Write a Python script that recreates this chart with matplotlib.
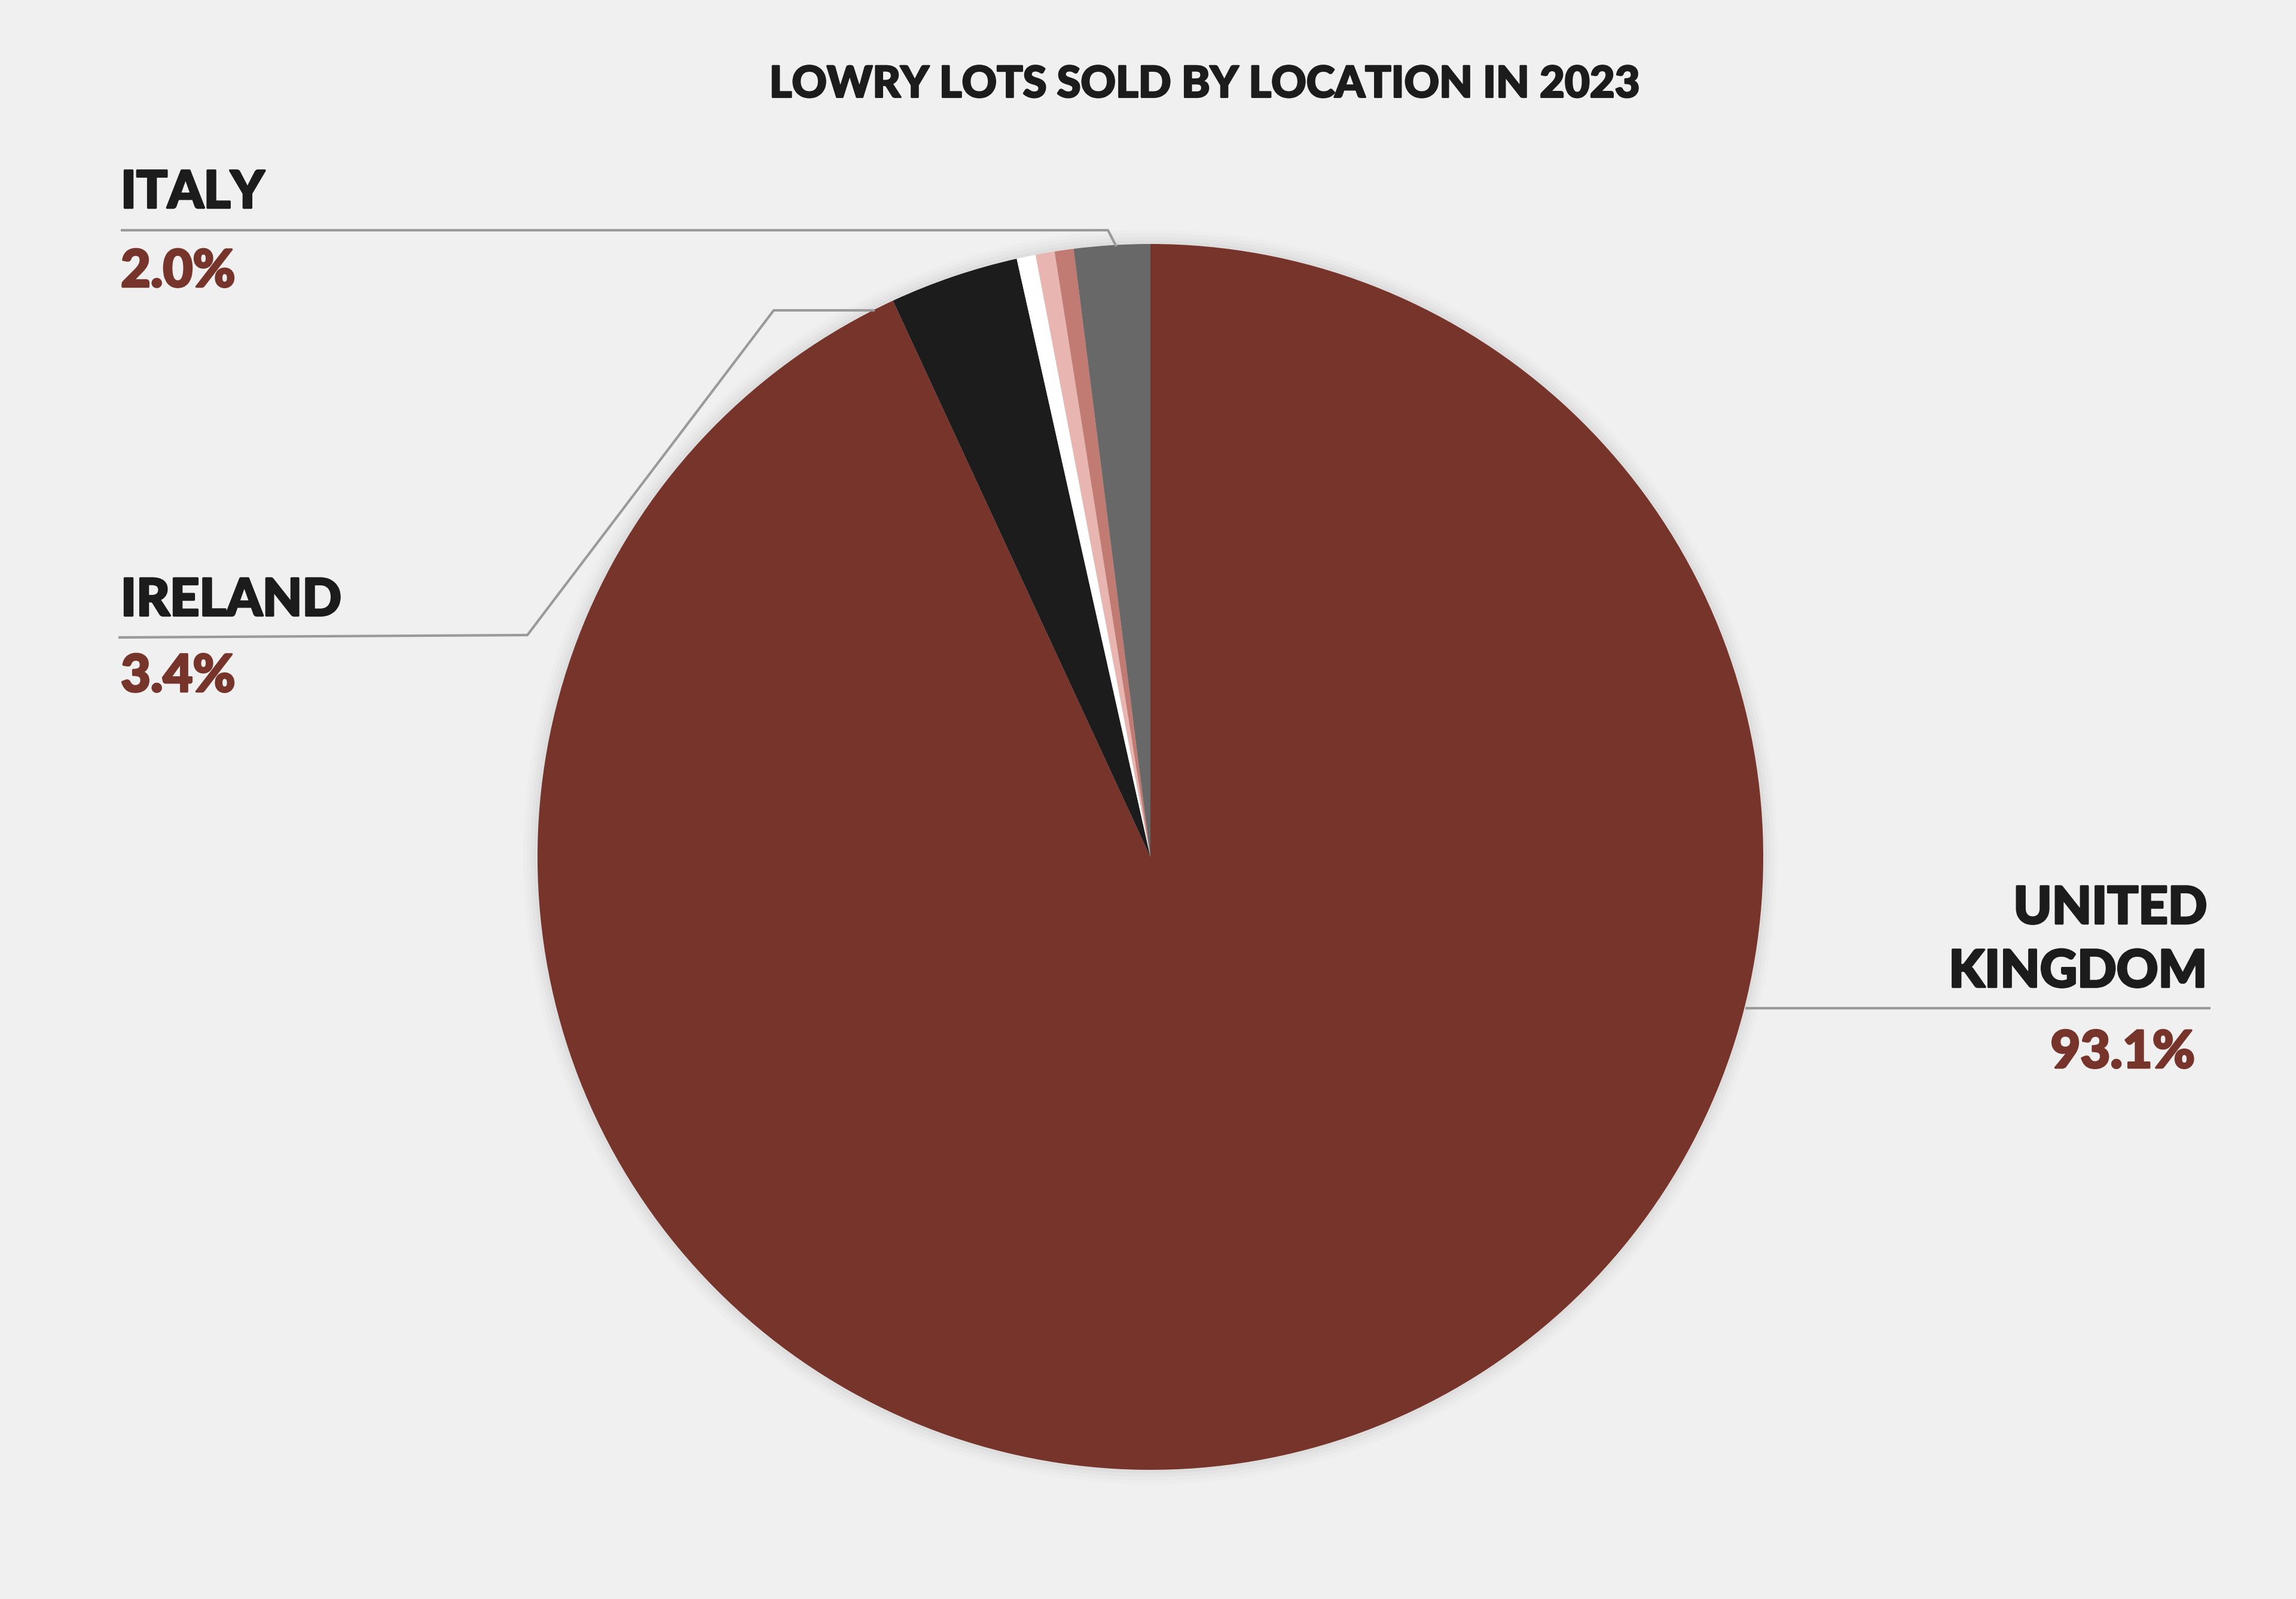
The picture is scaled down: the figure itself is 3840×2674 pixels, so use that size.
import matplotlib
matplotlib.use("Agg")
import matplotlib.pyplot as plt
import matplotlib.patheffects as pe

# ---- data ----
countries = ["United Kingdom", "Ireland", "Other A", "Other B", "Other C", "Italy"]
shares = [93.1, 3.4, 0.5, 0.5, 0.5, 2.0]
colors = ["#77342a", "#1c1c1c", "#ffffff", "#e8b5b0", "#c27b72", "#686868"]
label_names = ["UNITED\nKINGDOM", "IRELAND", "ITALY"]
label_values = ["93.1%", "3.4%", "2.0%"]
title = "LOWRY LOTS SOLD BY LOCATION IN 2023"

W, H = 3840, 2674
BG = "#f0f0f0"
RED = "#77342a"
INK = "#1c1c1c"
LINE = "#9a9a9a"

plt.rcParams['font.family'] = ['Lato', 'DejaVu Sans']

fig = plt.figure(figsize=(W / 100, H / 100), dpi=100, facecolor=BG)
ax = fig.add_axes([0, 0, 1, 1])
ax.set_xlim(0, W)
ax.set_ylim(0, H)
ax.set_aspect('equal')
ax.axis('off')
ax.set_facecolor(BG)

def Y(y):
    return H - y

cx, cy, r = 1924, 1433, 1025

# soft shadow
for i, a in enumerate([0.025, 0.02, 0.015, 0.01]):
    circ = plt.Circle((cx, Y(cy)), r + 6 + i * 6, color="black", alpha=a, lw=0, zorder=1)
    ax.add_patch(circ)

ax.pie(shares, colors=colors, startangle=90, counterclock=False,
       center=(cx, Y(cy)), radius=r, frame=True,
       wedgeprops=dict(linewidth=0, zorder=2))
ax.set_xlim(0, W)
ax.set_ylim(0, H)
ax.axis('off')

def heavy(color, w):
    return [pe.withStroke(linewidth=w, foreground=color)]

# title
ax.text(2015, Y(142), title, ha='center', va='center', fontsize=52,
        fontweight='black', color=INK, path_effects=heavy(INK, 2.0))

# leader lines
lw = 3
ax.plot([202, 1853, 1867], [Y(385), Y(385), Y(412)], color=LINE, lw=lw, zorder=3,
        solid_capstyle='butt')
ax.plot([198, 882, 1294, 1463], [Y(1066), Y(1062), Y(519), Y(519)], color=LINE, lw=lw,
        zorder=3, solid_capstyle='butt')
ax.plot([2919, 3697], [Y(1686), Y(1686)], color=LINE, lw=lw, zorder=3,
        solid_capstyle='butt')

fs = 62
sw = 2.5
# Italy
ax.text(202, Y(323), label_names[2], ha='left', va='center', fontsize=fs,
        fontweight='black', color=INK, path_effects=heavy(INK, sw))
ax.text(202, Y(455), label_values[2], ha='left', va='center', fontsize=fs,
        fontweight='black', color=RED, path_effects=heavy(RED, sw))
# Ireland
ax.text(202, Y(1005), label_names[1], ha='left', va='center', fontsize=fs,
        fontweight='black', color=INK, path_effects=heavy(INK, sw))
ax.text(202, Y(1132), label_values[1], ha='left', va='center', fontsize=fs,
        fontweight='black', color=RED, path_effects=heavy(RED, sw))
# United Kingdom
ax.text(3691, Y(1520), label_names[0].split("\n")[0], ha='right', va='center', fontsize=fs,
        fontweight='black', color=INK, path_effects=heavy(INK, sw))
ax.text(3691, Y(1626), label_names[0].split("\n")[1], ha='right', va='center', fontsize=fs,
        fontweight='black', color=INK, path_effects=heavy(INK, sw))
ax.text(3671, Y(1761), label_values[0], ha='right', va='center', fontsize=fs,
        fontweight='black', color=RED, path_effects=heavy(RED, sw))

fig.savefig("out.png", dpi=100, facecolor=BG)
